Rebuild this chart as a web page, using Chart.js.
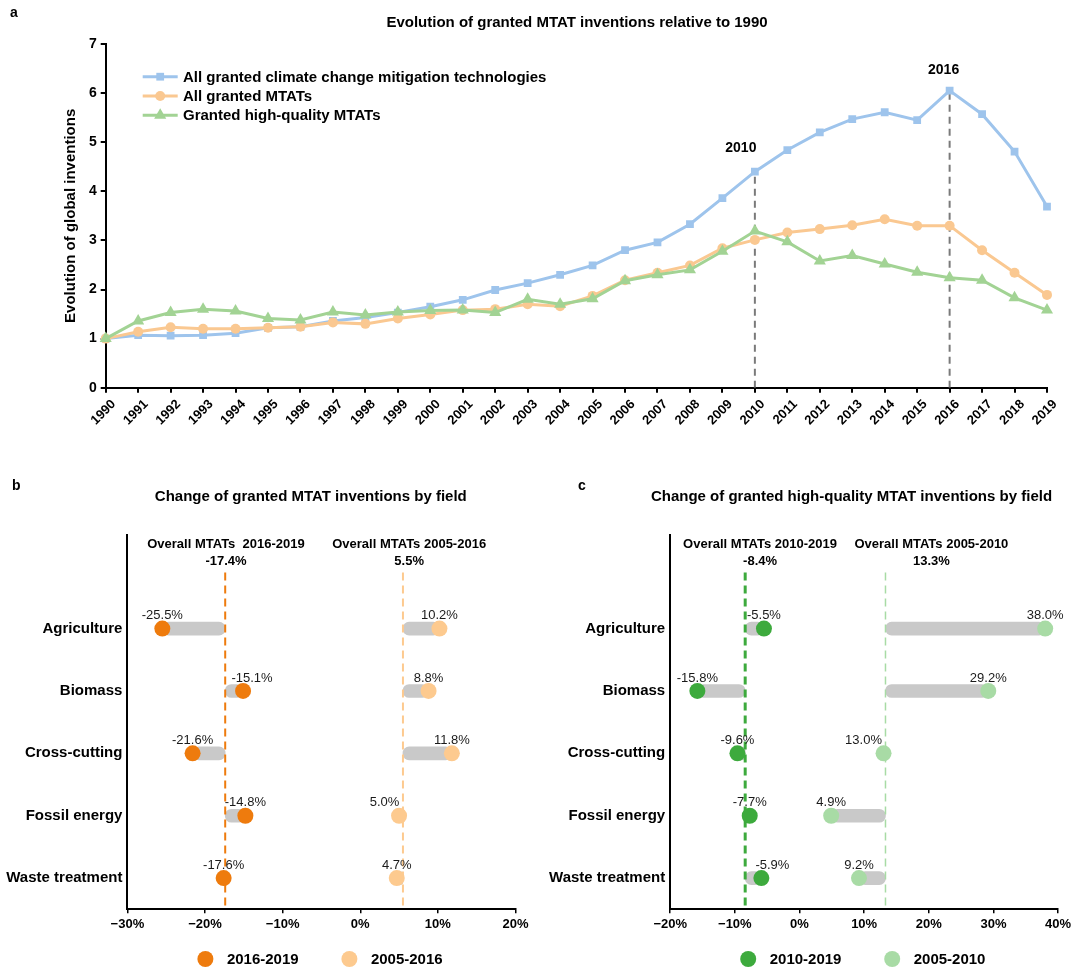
<!DOCTYPE html>
<html>
<head>
<meta charset="utf-8">
<title>MTAT inventions</title>
<script src="https://cdn.jsdelivr.net/npm/chart.js@4.4.1/dist/chart.umd.min.js"></script>
<style>
  html, body { margin: 0; padding: 0; background: #fff; }
  #wrap { position: relative; width: 1092px; height: 971px; overflow: hidden; background: #fff; }
  canvas { position: absolute; }
  #trend { left: 0; top: 0; }
  #fieldsAll { left: 0; top: 470px; }
  #fieldsHQ { left: 546px; top: 470px; }
</style>
</head>
<body>
<div id="wrap">
  <canvas id="trend" width="1092" height="470" style="width:1092px;height:470px"></canvas>
  <canvas id="fieldsAll" width="546" height="501" style="width:546px;height:501px"></canvas>
  <canvas id="fieldsHQ" width="546" height="501" style="width:546px;height:501px"></canvas>
</div>
<script>
// ---- Panel a: evolution relative to 1990 ----
const years = ['1990','1991','1992','1993','1994','1995','1996','1997','1998','1999',
               '2000','2001','2002','2003','2004','2005','2006','2007','2008','2009',
               '2010','2011','2012','2013','2014','2015','2016','2017','2018','2019'];
const allCCMT = [1.00,1.07,1.06,1.07,1.11,1.22,1.24,1.36,1.43,1.53,
                 1.65,1.79,1.99,2.13,2.30,2.49,2.80,2.96,3.33,3.86,
                 4.40,4.84,5.20,5.47,5.61,5.45,6.05,5.57,4.81,3.69];
const allMTAT = [1.00,1.14,1.23,1.20,1.20,1.22,1.24,1.33,1.30,1.41,
                 1.49,1.58,1.60,1.70,1.66,1.87,2.19,2.34,2.49,2.84,
                 3.01,3.16,3.23,3.31,3.43,3.30,3.30,2.80,2.34,1.89];
const hqMTAT  = [1.00,1.36,1.53,1.60,1.56,1.41,1.38,1.54,1.48,1.54,
                 1.57,1.58,1.53,1.80,1.70,1.81,2.18,2.30,2.40,2.78,
                 3.19,2.97,2.58,2.69,2.52,2.35,2.24,2.19,1.83,1.58];
const markedYears = ['2010', '2016'];

// ---- Panels b and c: change by field ----
const fields = ['Agriculture', 'Biomass', 'Cross-cutting', 'Fossil energy', 'Waste treatment'];
const mtat1619 = [-25.5, -15.1, -21.6, -14.8, -17.6];
const mtat0516 = [10.2, 8.8, 11.8, 5.0, 4.7];
const mtat1619Overall = -17.4;
const mtat0516Overall = 5.5;
const hq1019 = [-5.5, -15.8, -9.6, -7.7, -5.9];
const hq0510 = [38.0, 29.2, 13.0, 4.9, 9.2];
const hq1019Overall = -8.4;
const hq0510Overall = 13.3;

const FONT = "'Liberation Sans', Arial, Helvetica, sans-serif";
Chart.defaults.font.family = FONT;
Chart.defaults.color = '#000';

const BLUE = '#9EC4EC', ORANGE = '#FAC891', GREEN = '#A2D394';
const GRAY = '#C9C9C9';

const trendDecor = {
  id: 'trendDecor',
  afterDraw(chart, args, o) {
    const { ctx, chartArea: a, scales: { x, y } } = chart;
    ctx.save();
    ctx.textBaseline = 'middle';
    ctx.fillStyle = '#000';
    ctx.font = `bold 14px ${FONT}`;
    ctx.textAlign = 'left';
    ctx.fillText('a', 10, 13);
    ctx.font = `bold 15px ${FONT}`;
    ctx.textAlign = 'center';
    ctx.fillText(o.title, 577, 23);

    // year call-outs above the guide lines
    ctx.font = `bold 14px ${FONT}`;
    o.marks.forEach(m => {
      const i = years.indexOf(m.year);
      ctx.fillText(m.year, x.getPixelForValue(i) + m.dx, y.getPixelForValue(allCCMT[i]) + m.dy);
    });

    // legend: line sample with its marker
    chart.data.datasets.slice(0, 3).forEach((ds, k) => {
      const ly = a.top + 32.7 + k * 19.3;
      ctx.strokeStyle = ds.borderColor;
      ctx.lineWidth = 3;
      ctx.beginPath();
      ctx.moveTo(a.left + 37, ly);
      ctx.lineTo(a.left + 72, ly);
      ctx.stroke();
      ctx.fillStyle = ds.backgroundColor;
      Chart.helpers.drawPoint(ctx, { pointStyle: ds.pointStyle, radius: ds.pointRadius, borderWidth: 0, rotation: 0 }, a.left + 54.5, ly);
      ctx.fillStyle = '#000';
      ctx.font = `bold 15px ${FONT}`;
      ctx.textAlign = 'left';
      ctx.fillText(ds.label, a.left + 77.3, ly + 1);
    });
    ctx.restore();
  }
};

const axisGrid = { drawOnChartArea: false, drawTicks: true, tickLength: 5, color: '#000', lineWidth: 2 };
const axisBorder = { color: '#000', width: 2 };

new Chart(document.getElementById('trend'), {
  type: 'line',
  data: {
    labels: years,
    datasets: [
      { label: 'All granted climate change mitigation technologies', data: allCCMT,
        borderColor: BLUE, backgroundColor: BLUE, borderWidth: 3,
        pointStyle: 'rect', pointRadius: 5.5, pointBorderWidth: 0, order: 3 },
      { label: 'All granted MTATs', data: allMTAT,
        borderColor: ORANGE, backgroundColor: ORANGE, borderWidth: 3,
        pointStyle: 'circle', pointRadius: 5, pointBorderWidth: 0, order: 2 },
      { label: 'Granted high-quality MTATs', data: hqMTAT,
        borderColor: GREEN, backgroundColor: GREEN, borderWidth: 3,
        pointStyle: 'triangle', pointRadius: 7, pointBorderWidth: 0, order: 1 },
      ...markedYears.map(yr => ({
        label: 'guide ' + yr,
        data: [{ x: yr, y: 0 }, { x: yr, y: allCCMT[years.indexOf(yr)] }],
        borderColor: '#7A7A7A', borderWidth: 2, borderDash: [7, 5],
        pointRadius: 0, order: 10
      }))
    ]
  },
  options: {
    responsive: false,
    animation: false,
    events: [],
    layout: { padding: { left: 0, top: 44, right: 45, bottom: 0 } },
    plugins: {
      legend: { display: false },
      tooltip: { enabled: false },
      trendDecor: {
        title: 'Evolution of granted MTAT inventions relative to 1990',
        marks: [{ year: '2010', dx: -14, dy: -24 }, { year: '2016', dx: -6, dy: -21 }]
      }
    },
    scales: {
      x: {
        type: 'category', offset: false,
        grid: axisGrid, border: axisBorder,
        ticks: { autoSkip: false, minRotation: 45, maxRotation: 45, padding: 4, labelOffset: 8,
                 color: '#000', font: { size: 13, weight: 'bold' } },
        afterFit(s) { s.height = 82.3; }
      },
      y: {
        min: 0, max: 7,
        grid: axisGrid, border: axisBorder,
        ticks: { stepSize: 1, padding: 4, color: '#000', font: { size: 14, weight: 'bold' } },
        title: { display: true, text: 'Evolution of global inventions', color: '#000',
                 font: { size: 15, weight: 'bold' }, padding: { top: 62, bottom: 0 } },
        afterFit(s) { s.width = 105.7; }
      }
    }
  },
  plugins: [trendDecor]
});

// ---- field panels ----
const pct = v => (v < 0 ? '\u2212' + Math.abs(v) : String(v)) + '%';

const fieldDecor = {
  id: 'fieldDecor',
  afterDraw(chart, args, o) {
    const { ctx, chartArea: a, scales: { x } } = chart;
    ctx.save();
    ctx.textBaseline = 'middle';

    // value labels above each dot
    ctx.font = `13px ${FONT}`;
    ctx.fillStyle = '#1a1a1a';
    ctx.textAlign = 'center';
    [0, 1].forEach(di => {
      const meta = chart.getDatasetMeta(di);
      const pts = chart.data.datasets[di].data;
      meta.data.forEach((el, i) => {
        const nudge = (o.nudges[di] && o.nudges[di][i]) || 0;
        ctx.fillText(pts[i].x.toFixed(1) + '%', el.x + nudge, el.y - 13);
      });
    });

    // overall headers
    ctx.fillStyle = '#000';
    ctx.font = `bold 13px ${FONT}`;
    o.headers.forEach(h => {
      const hx = x.getPixelForValue(h.at);
      ctx.fillText(h.text, hx, a.top + 9);
      ctx.fillText(h.value.toFixed(1) + '%', hx, a.top + 26.7);
    });

    // panel title and letter
    ctx.font = `bold 15px ${FONT}`;
    ctx.fillText(o.title, o.titleX, 27);
    ctx.textAlign = 'left';
    ctx.font = `bold 14px ${FONT}`;
    ctx.fillText(o.letter, o.letterX, 16);

    // legend
    ctx.font = `bold 15px ${FONT}`;
    [0, 1].forEach(di => {
      const ds = chart.data.datasets[di];
      const lx = a.left + 78 + di * 144;
      const ly = 489;
      ctx.fillStyle = ds.backgroundColor;
      ctx.beginPath();
      ctx.arc(lx, ly, 8, 0, Math.PI * 2);
      ctx.fill();
      ctx.fillStyle = '#000';
      ctx.fillText(ds.label, lx + 21.5, ly + 1);
    });
    ctx.restore();
  }
};

function fieldChart(id, p) {
  const dots = (vals, color, name) => ({
    type: 'scatter', label: name,
    data: vals.map((v, i) => ({ x: v, y: i })),
    backgroundColor: color, borderColor: color,
    pointRadius: 8, pointHoverRadius: 8, borderWidth: 0, order: 1
  });
  const guide = (overall, color, width, dash) => ({
    type: 'line', label: 'overall',
    data: [{ x: overall, y: -0.9 }, { x: overall, y: 4.5 }],
    borderColor: color, borderWidth: width, borderDash: dash,
    pointRadius: 0, order: 2
  });
  const span = (vals, overall) => ({
    type: 'bar', label: 'span', indexAxis: 'y', grouped: false,
    data: vals.map((v, i) => ({ y: i, x: [overall, v] })),
    backgroundColor: GRAY, barThickness: 13, maxBarThickness: 13,
    borderRadius: 6.5, borderSkipped: false, order: 3
  });

  return new Chart(document.getElementById(id), {
    type: 'scatter',
    data: {
      datasets: [
        dots(p.late, p.lateColor, p.lateName),
        dots(p.early, p.earlyColor, p.earlyName),
        guide(p.lateOverall, p.lateColor, p.lateDashWidth, [8, 5]),
        guide(p.earlyOverall, p.earlyColor, p.earlyDashWidth, [8, 5]),
        span(p.late, p.lateOverall),
        span(p.early, p.earlyOverall)
      ]
    },
    options: {
      responsive: false,
      animation: false,
      events: [],
      layout: { padding: { left: 0, top: 65, right: p.padRight, bottom: 0 } },
      plugins: {
        legend: { display: false },
        tooltip: { enabled: false },
        fieldDecor: {
          title: p.title, titleX: p.titleX, letter: p.letter, letterX: p.letterX,
          headers: p.headers, nudges: p.nudges
        }
      },
      scales: {
        x: {
          type: 'linear', min: p.min, max: p.max, offset: false,
          grid: { drawOnChartArea: false, drawTicks: true, tickLength: 4, color: '#000', lineWidth: 1.5 },
          border: axisBorder,
          ticks: { stepSize: 10, padding: 3, callback: pct, color: '#000', font: { size: 13, weight: 'bold' } },
          afterFit(s) { s.height = 61.7; }
        },
        y: {
          type: 'linear', reverse: true, min: -1.5, max: 4.5, offset: false,
          afterBuildTicks(s) { s.ticks = fields.map((f, i) => ({ value: i })); },
          grid: { display: false, drawTicks: false, offset: false },
          border: axisBorder,
          ticks: { padding: 5, callback: v => fields[v], color: '#000', font: { size: 15, weight: 'bold' } },
          afterFit(s) { s.width = p.axisLeft; }
        }
      }
    },
    plugins: [fieldDecor]
  });
}

fieldChart('fieldsAll', {
  late: mtat1619, early: mtat0516,
  lateOverall: mtat1619Overall, earlyOverall: mtat0516Overall,
  lateName: '2016-2019', earlyName: '2005-2016',
  lateColor: '#EE7B0D', earlyColor: '#FDCA8F',
  lateDashWidth: 2, earlyDashWidth: 2,
  min: -30, max: 20, axisLeft: 127.4, padRight: 30.5,
  title: 'Change of granted MTAT inventions by field', titleX: 310.8,
  letter: 'b', letterX: 12,
  headers: [
    { text: 'Overall MTATs  2016-2019', value: mtat1619Overall, at: -17.3 },
    { text: 'Overall MTATs 2005-2016', value: mtat0516Overall, at: 6.3 }
  ],
  nudges: { 0: { 1: 9 }, 1: { 3: -14.5 } }
});

fieldChart('fieldsHQ', {
  late: hq1019, early: hq0510,
  lateOverall: hq1019Overall, earlyOverall: hq0510Overall,
  lateName: '2010-2019', earlyName: '2005-2010',
  lateColor: '#3DAA3D', earlyColor: '#A8DBA5',
  lateDashWidth: 3, earlyDashWidth: 1.5,
  min: -20, max: 40, axisLeft: 124.2, padRight: 33.9,
  title: 'Change of granted high-quality MTAT inventions by field', titleX: 305.5,
  letter: 'c', letterX: 32,
  headers: [
    { text: 'Overall MTATs 2010-2019', value: hq1019Overall, at: -6.1 },
    { text: 'Overall MTATs 2005-2010', value: hq0510Overall, at: 20.4 }
  ],
  nudges: { 0: { 4: 11 }, 1: { 2: -20 } }
});
</script>
</body>
</html>
